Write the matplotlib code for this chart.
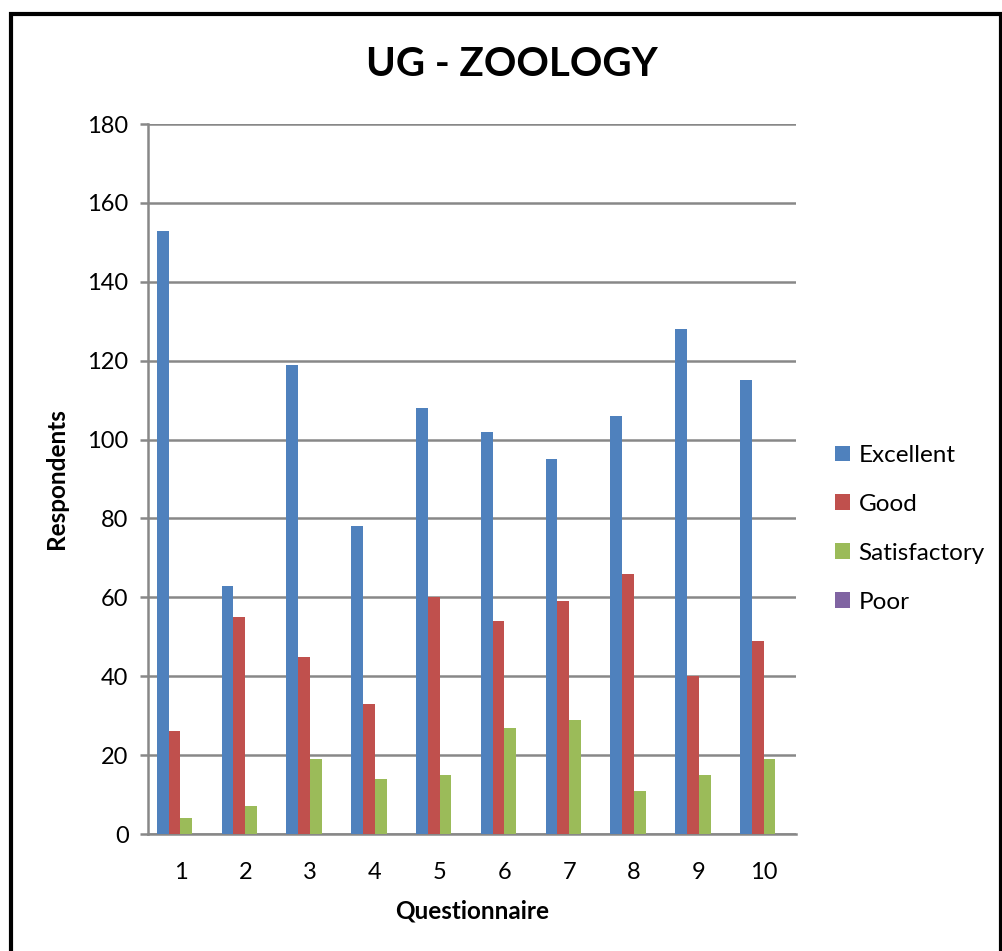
import matplotlib
matplotlib.use("Agg")
import matplotlib.pyplot as plt
from matplotlib.patches import Rectangle
import numpy as np

categories = ["1", "2", "3", "4", "5", "6", "7", "8", "9", "10"]
excellent = [153, 63, 119, 78, 108, 102, 95, 106, 128, 115]
good = [26, 55, 45, 33, 60, 54, 59, 66, 40, 49]
satisfactory = [4, 7, 19, 14, 15, 27, 29, 11, 15, 19]
poor = [0, 0, 0, 0, 0, 0, 0, 0, 0, 0]
series_names = ["Excellent", "Good", "Satisfactory", "Poor"]
colors = ["#4F81BD", "#C0504D", "#9BBB59", "#8064A2"]

plt.rcParams['font.family'] = ['Lato', 'DejaVu Sans']

fig = plt.figure(figsize=(10.03, 9.51), dpi=100)
ax = fig.add_axes([0.1476, 0.123, 0.646, 0.7466])

n = len(categories)
x = np.arange(n)
bw = 1 / 5.5
data = [excellent, good, satisfactory, poor]
for i, (vals, name, c) in enumerate(zip(data, series_names, colors)):
    ax.bar(x + (i - 1.5) * bw, vals, width=bw, color=c, label=name, zorder=3)

ax.set_xlim(-0.5, n - 0.5)
ax.set_ylim(0, 180)
ax.set_yticks(range(0, 181, 20))
ax.set_xticks(x)
ax.set_xticklabels(categories)
ax.grid(axis='y', color='#888888', linewidth=1.8, zorder=0)
for s in ['top', 'right']:
    ax.spines[s].set_visible(False)
for s in ['left', 'bottom']:
    ax.spines[s].set_color('#888888')
    ax.spines[s].set_linewidth(1.8)
ax.tick_params(axis='y', length=6, width=1.8, color='#888888', labelsize=17, pad=8)
ax.tick_params(axis='x', length=0, labelsize=17, pad=20)

ax.set_ylabel("Respondents", fontsize=17.5, fontweight='bold', labelpad=14)
ax.set_xlabel("Questionnaire", fontsize=17.5, fontweight='bold', labelpad=12)
fig.text(0.5105, 0.932, "UG - ZOOLOGY", ha='center', va='center', fontsize=29, fontweight='bold')

leg = ax.legend(loc='center left', bbox_to_anchor=(1.027, 0.43), frameon=False, fontsize=17.5,
                handlelength=0.6, handleheight=0.6, handletextpad=0.35, labelspacing=1.15)

fig.patches.append(Rectangle((0.011, -0.05), 0.987, 1.035, transform=fig.transFigure,
                             fill=False, edgecolor='black', linewidth=3))

fig.savefig("out.png", dpi=100)
